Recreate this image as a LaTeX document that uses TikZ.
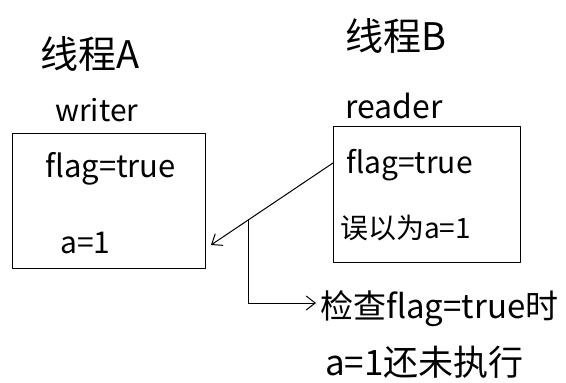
\documentclass[tikz,border=0pt]{standalone}
\usepackage{fontspec}
\setmainfont{Noto Sans CJK SC}
\usetikzlibrary{arrows.meta,calc}
\begin{document}
\begin{tikzpicture}[x=1pt,y=-1pt,
  hand/.style={line width=1pt, black, line join=round, line cap=round},
  box/.style={hand, draw, inner sep=0pt},
  lbl/.style={inner sep=0pt, anchor=base west, text=black},
  fs/.style={font=\fontsize{#1}{#1}\selectfont},
  tip/.style={-{Straight Barb[length=9pt,width=14pt,line width=1pt]}}]
\useasboundingbox (0,0) rectangle (566,383);
% titles
\node[lbl,fs=38] (tA) at (40,68) {线程A};
\node[lbl,fs=38] (tB) at (345,50) {线程B};
\node[lbl,fs=30] (wr) at (55,121) {writer};
\node[lbl,fs=32] (rd) at (345,118) {reader};
% boxes
\node[box, minimum width=193pt, minimum height=135pt] (boxA) at (108.5,200.5) {};
\node[box, minimum width=187pt, minimum height=136pt] (boxB) at (426.5,194) {};
% box contents
\node[lbl,fs=31] (fA) at (45,177) {flag=true};
\node[lbl,fs=30] (aA) at (60,253) {a=1};
\node[lbl,fs=30] (fB) at (346,173) {flag=true};
\node[lbl,fs=28] (mB) at (340,238) {误以为a=1};
% connectors
\coordinate (s) at (333,163);
\coordinate (e) at (211,245);
\coordinate (br) at ($(s)!0.69!(e)$);
\coordinate (dn) at (br |- 0,303);
\coordinate (ct) at (316,303);
\draw[hand,tip] (s) -- (e);
\draw[hand,tip] (br) -- (dn) -- (ct);
% bottom note
\node[lbl,fs=33] (n1) at (320,318) {检查flag=true时};
\node[lbl,fs=35] (n2) at (325,375) {a=1还未执行};
\end{tikzpicture}
\end{document}
